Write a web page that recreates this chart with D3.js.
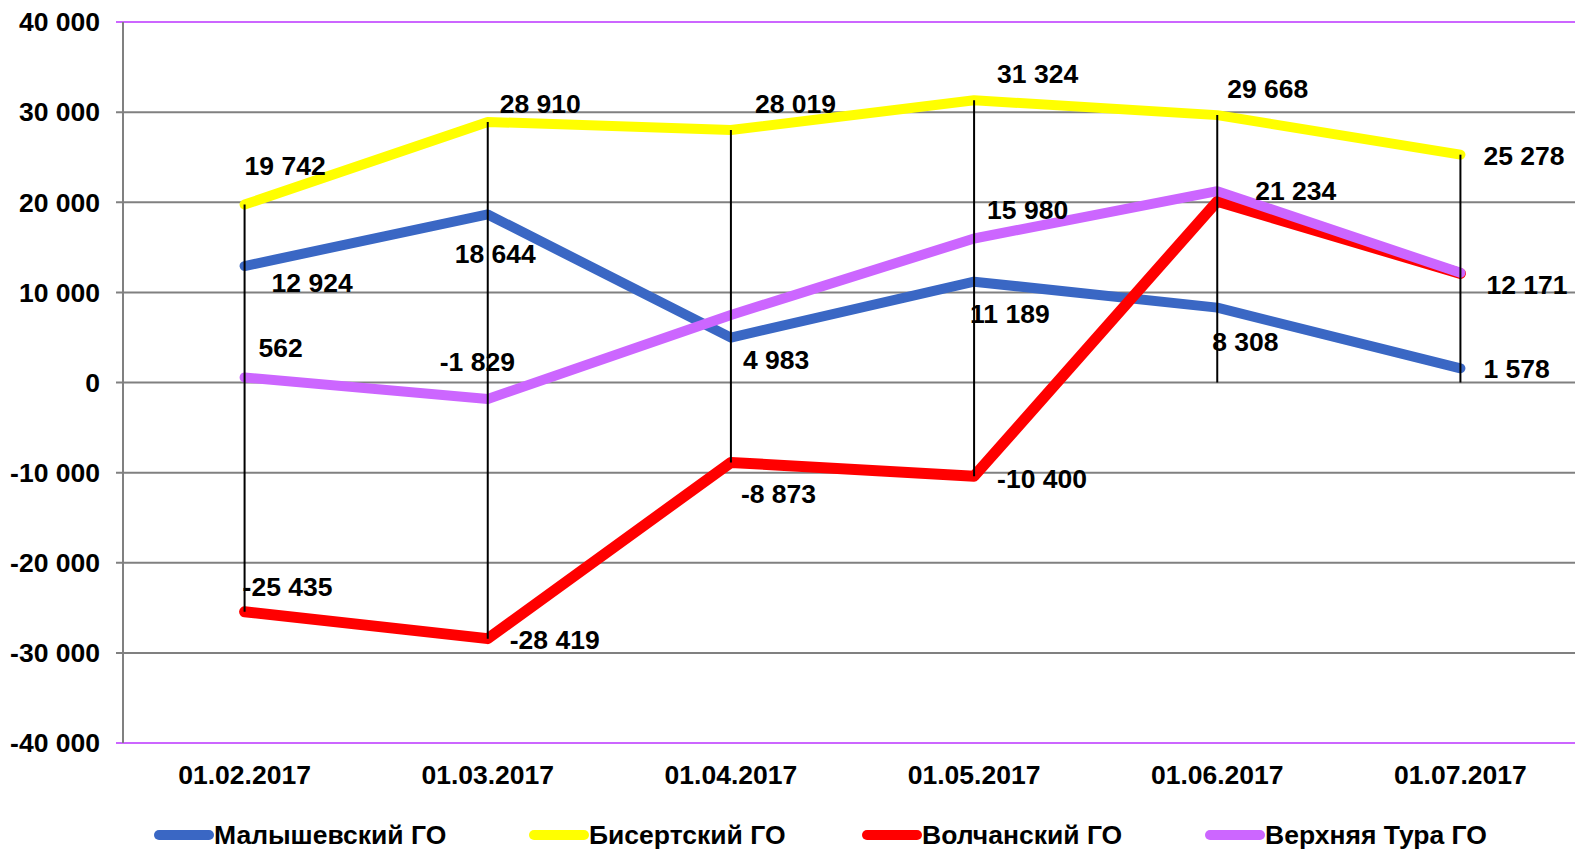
<!DOCTYPE html>
<html>
<head>
<meta charset="utf-8">
<script src="https://cdn.jsdelivr.net/npm/d3@7"></script>
<style>
  body { margin: 0; background: #fff; }
  svg { display: block; font-family: "Liberation Sans", Arial, sans-serif; font-weight: bold; }
</style>
</head>
<body>
<svg id="chart"></svg>
<script>
// данные
var dates = ["01.02.2017", "01.03.2017", "01.04.2017", "01.05.2017", "01.06.2017", "01.07.2017"];
var yTicks = [-40000, -30000, -20000, -10000, 0, 10000, 20000, 30000, 40000];

var malyshevsky = [12924, 18644, 4983, 11189, 8308, 1578];
var bisertsky = [19742, 28910, 28019, 31324, 29668, 25278];
var volchansky = [-25435, -28419, -8873, -10400, 20100, 12100];
var verkhTura = [562, -1829, 7500, 15980, 21234, 12171];

// нижние концы вертикальных линий (по исходной диаграмме)
var dropLow = [-25435, -28419, -8873, -10400, 0, 0];

// подписи: null = без подписи
var labelsMal = [12924, 18644, 4983, 11189, 8308, 1578];
var labelsBis = [19742, 28910, 28019, 31324, 29668, 25278];
var labelsVol = [-25435, -28419, -8873, -10400, null, null];
var labelsVer = [562, -1829, null, 15980, 21234, 12171];

// сдвиги подписей относительно точки (раскладка)
var shiftMal = [[27, 17], [-33, 39], [12, 22], [-4, 32], [-5, 34], [23, 0]];
var shiftBis = [[0, -39], [12, -18], [24, -26], [23, -26], [10, -26], [23, 1]];
var shiftVol = [[-2, -25], [22, 1], [10, 31], [23, 2], [0, 0], [0, 0]];
var shiftVer = [[14, -30], [-48, -37], [0, 0], [13, -29], [38, 0], [26, 12]];

var series = [
    { name: "Малышевский ГО", values: malyshevsky, labels: labelsMal, shift: shiftMal, color: "#3A67C4", width: 10 },
    { name: "Бисертский ГО", values: bisertsky, labels: labelsBis, shift: shiftBis, color: "#FFFF00", width: 10 },
    { name: "Волчанский ГО", values: volchansky, labels: labelsVol, shift: shiftVol, color: "#FF0000", width: 11 },
    { name: "Верхняя Тура ГО", values: verkhTura, labels: labelsVer, shift: shiftVer, color: "#CC66FF", width: 10 }
];

var svgWidth = 1575, svgHeight = 850;
var fontSize = 26.5;
var svg = d3.select("#chart").attr("width", svgWidth).attr("height", svgHeight);

var plotLeft = 123, plotRight = 1582, plotTop = 22, plotBottom = 743;

var x = d3.scalePoint().domain(dates).range([plotLeft, plotRight]).padding(0.5);
var y = d3.scaleLinear().domain([-40000, 40000]).range([plotBottom, plotTop]);

function fmt(v) {
    var s = Math.abs(v).toString().replace(/\B(?=(\d{3})+(?!\d))/g, " ");
    return (v < 0 ? "-" : "") + s;
}

// сетка
svg.append("g").selectAll("line")
    .data(yTicks)
    .enter().append("line")
    .attr("x1", plotLeft - 7)
    .attr("x2", svgWidth)
    .attr("y1", function (d) { return y(d); })
    .attr("y2", function (d) { return y(d); })
    .attr("stroke", function (d) { return (d === 40000 || d === -40000) ? "#CC66FF" : "#808080"; })
    .attr("stroke-width", 2);

// ось Y
svg.append("line")
    .attr("x1", plotLeft).attr("x2", plotLeft)
    .attr("y1", plotTop).attr("y2", plotBottom)
    .attr("stroke", "#808080").attr("stroke-width", 2);

svg.append("g").selectAll("text")
    .data(yTicks)
    .enter().append("text")
    .attr("x", 100)
    .attr("y", function (d) { return y(d); })
    .attr("dy", "0.35em")
    .attr("text-anchor", "end")
    .attr("font-size", fontSize)
    .text(fmt);

// подписи оси X
svg.append("g").selectAll("text")
    .data(dates)
    .enter().append("text")
    .attr("x", function (d) { return x(d); })
    .attr("y", 775)
    .attr("dy", "0.35em")
    .attr("text-anchor", "middle")
    .attr("font-size", fontSize)
    .text(function (d) { return d; });

// линии рядов
var line = d3.line()
    .x(function (d, i) { return x(dates[i]); })
    .y(function (d) { return y(d); });

series.forEach(function (s) {
    svg.append("path")
        .datum(s.values)
        .attr("fill", "none")
        .attr("stroke", s.color)
        .attr("stroke-width", s.width)
        .attr("stroke-linejoin", "round")
        .attr("stroke-linecap", "round")
        .attr("d", line);
});

// вертикальные линии (max - min)
svg.append("g").selectAll("line")
    .data(dates)
    .enter().append("line")
    .attr("x1", function (d) { return x(d); })
    .attr("x2", function (d) { return x(d); })
    .attr("y1", function (d, i) {
        return y(d3.max(series, function (s) { return s.values[i]; }));
    })
    .attr("y2", function (d, i) { return y(dropLow[i]); })
    .attr("stroke", "#000")
    .attr("stroke-width", 2);

// подписи данных
series.forEach(function (s) {
    s.labels.forEach(function (v, i) {
        if (v === null) return;
        svg.append("text")
            .attr("x", x(dates[i]) + s.shift[i][0])
            .attr("y", y(s.values[i]) + s.shift[i][1])
            .attr("dy", "0.35em")
            .attr("font-size", fontSize)
            .text(fmt(v));
    });
});

// легенда
var legendX = [154, 529, 862, 1205];
var legend = svg.append("g").selectAll("g")
    .data(series)
    .enter().append("g")
    .attr("transform", function (d, i) { return "translate(" + legendX[i] + ",835)"; });

legend.append("line")
    .attr("x1", 5).attr("x2", 55)
    .attr("y1", 0).attr("y2", 0)
    .attr("stroke", function (d) { return d.color; })
    .attr("stroke-width", 10)
    .attr("stroke-linecap", "round");

legend.append("text")
    .attr("x", 60)
    .attr("dy", "0.35em")
    .attr("font-size", fontSize)
    .text(function (d) { return d.name; });
</script>
</body>
</html>
